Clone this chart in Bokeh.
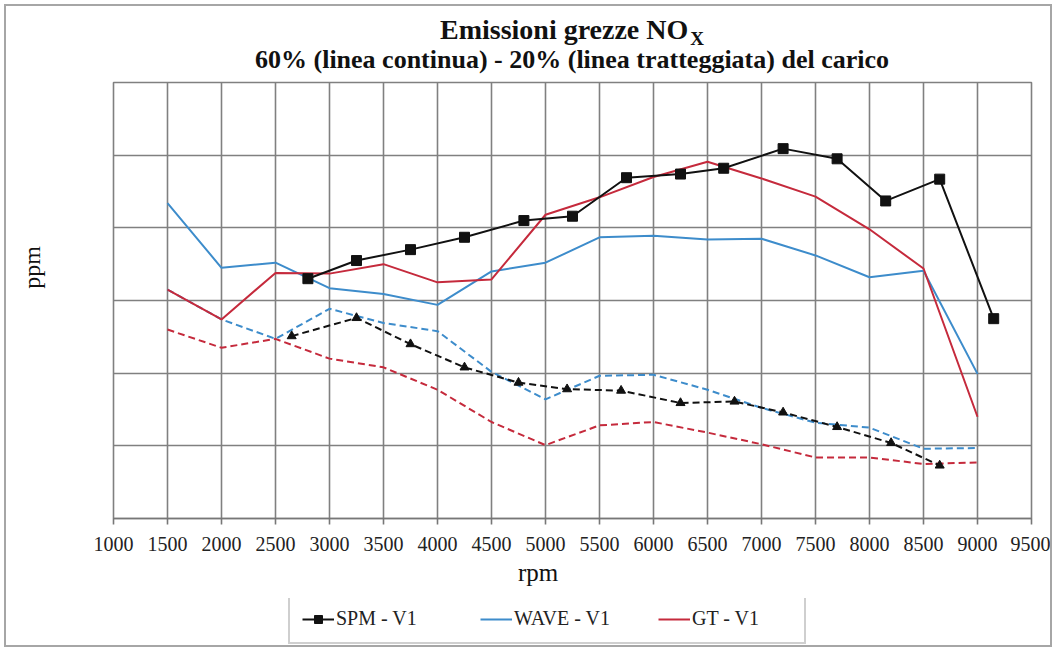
from bokeh.plotting import figure
from bokeh.models import Legend, LegendItem, FixedTicker, Range1d, Div
from bokeh.layouts import column
from bokeh.embed import file_html
from bokeh.resources import INLINE

# ---------------- data ----------------
rpm_ticks = [1000, 1500, 2000, 2500, 3000, 3500, 4000, 4500, 5000,
             5500, 6000, 6500, 7000, 7500, 8000, 8500, 9000, 9500]
ppm_grid = [0, 500, 1000, 1500, 2000, 2500, 3000]

# SPM - V1 (60% load, solid, squares)
spm60_rpm = [2800, 3250, 3750, 4250, 4800, 5250, 5750, 6250, 6650, 7200, 7700, 8150, 8650, 9150]
spm60_ppm = [1650, 1775, 1850, 1935, 2050, 2080, 2345, 2370, 2410, 2545, 2475, 2185, 2335, 1375]
# SPM - V1 (20% load, dashed, triangles)
spm20_rpm = [2650, 3250, 3750, 4250, 4750, 5200, 5700, 6250, 6750, 7200, 7700, 8200, 8650]
spm20_ppm = [1255, 1380, 1200, 1040, 935, 890, 880, 795, 805, 730, 630, 520, 365]

# WAVE / GT common rpm points
rpm_pts = [1500, 2000, 2500, 3000, 3500, 4000, 4500, 5000,
           5500, 6000, 6500, 7000, 7500, 8000, 8500, 9000]
wave60_ppm = [2170, 1725, 1760, 1585, 1545, 1470, 1700, 1760, 1935, 1945, 1920, 1925, 1810, 1660, 1705, 995]
wave20_ppm = [1575, 1370, 1236, 1443, 1345, 1289, 1009, 820, 982, 989, 886, 761, 659, 625, 480, 485]
gt60_ppm = [1575, 1370, 1690, 1685, 1750, 1625, 1645, 2090, 2210, 2350, 2455, 2340, 2215, 1990, 1720, 700]
gt20_ppm = [1300, 1175, 1236, 1100, 1040, 886, 664, 505, 641, 664, 591, 511, 420, 420, 375, 386]

series_names = ["SPM - V1", "WAVE - V1", "GT - V1"]
title_main = "Emissioni grezze NO"
title_sub = "X"
subtitle = "60% (linea continua) - 20% (linea tratteggiata) del carico"
x_label = "rpm"
y_label = "ppm"

# ---------------- style ----------------
BLACK = "#111111"
BLUE = "#3d8ccb"
RED = "#c52a3c"
GRID = "#808080"
SERIF = "Liberation Serif"
DASH = "7 4"
NB = "\u00a0"

W, H_TITLE, H_LEG = 1044, 70, 47

title_html = (
    f'<div style="width:{W}px;height:{H_TITLE}px;font-family:\'{SERIF}\';'
    f'font-weight:bold;color:#111111;box-sizing:border-box;'
    f'padding-left:107px;padding-right:19px;text-align:center;">'
    f'<div style="padding-top:10px;font-size:28px;line-height:28px;white-space:nowrap;">'
    f'{title_main}<span style="font-size:19px;position:relative;top:6px;margin-left:2px;">{title_sub}</span></div>'
    f'<div style="font-size:26px;line-height:26px;white-space:nowrap;">{subtitle}</div>'
    f'</div>'
)
title_div = Div(text=title_html, width=W, height=H_TITLE, margin=0)

# ---------------- main chart ----------------
p = figure(frame_width=918, frame_height=436, output_backend="svg", toolbar_location=None,
           x_range=Range1d(1000, 9500), y_range=Range1d(0, 3000),
           min_border_left=107, min_border_right=19, min_border_top=6,
           min_border_bottom=80, margin=0)
p.background_fill_color = "white"
p.border_fill_color = "white"
p.outline_line_color = GRID
p.outline_line_width = 1.6

p.xaxis.ticker = FixedTicker(ticks=rpm_ticks)
p.yaxis.ticker = FixedTicker(ticks=ppm_grid)
p.xgrid.ticker = FixedTicker(ticks=rpm_ticks)
p.ygrid.ticker = FixedTicker(ticks=ppm_grid)
p.xgrid.grid_line_color = GRID
p.ygrid.grid_line_color = GRID
p.xgrid.grid_line_width = 1.6
p.ygrid.grid_line_width = 1.6

ax = p.xaxis[0]
ax.axis_line_color = "#777777"
ax.axis_line_width = 1.6
ax.major_tick_line_color = "#777777"
ax.major_tick_line_width = 1.6
ax.major_tick_out = 6
ax.major_tick_in = 0
ax.minor_tick_line_color = None
ax.major_label_text_font = SERIF
ax.major_label_text_font_size = "20px"
ax.major_label_text_color = "#222222"
ax.major_label_standoff = 12
ax.axis_label = x_label + NB * 11
ax.axis_label_text_font = SERIF
ax.axis_label_text_font_size = "25px"
ax.axis_label_text_font_style = "normal"
ax.axis_label_text_color = "#111111"
ax.axis_label_standoff = 5

ay = p.yaxis[0]
ay.axis_line_color = None
ay.major_tick_line_color = None
ay.minor_tick_line_color = None
ay.major_tick_out = 0
ay.major_tick_in = 0
ay.major_label_overrides = {v: "" for v in ppm_grid}
ay.major_label_standoff = 0
ay.axis_label = NB * 11 + y_label
ay.axis_label_text_font = SERIF
ay.axis_label_text_font_size = "24px"
ay.axis_label_text_font_style = "normal"
ay.axis_label_text_color = "#111111"
ay.axis_label_standoff = 69

# 20% load: dashed lines
p.line(rpm_pts, gt20_ppm, line_color=RED, line_width=2, line_dash=DASH)
p.line(rpm_pts, wave20_ppm, line_color=BLUE, line_width=2, line_dash=DASH)
p.line(spm20_rpm, spm20_ppm, line_color=BLACK, line_width=2, line_dash=DASH)
p.scatter(spm20_rpm, spm20_ppm, marker="triangle", size=9, color=BLACK)

# 60% load: solid lines
p.line(rpm_pts, wave60_ppm, line_color=BLUE, line_width=2)
p.line(rpm_pts, gt60_ppm, line_color=RED, line_width=2)
p.line(spm60_rpm, spm60_ppm, line_color=BLACK, line_width=2)
p.scatter(spm60_rpm, spm60_ppm, marker="square", size=10, color=BLACK)

# ---------------- legend strip ----------------
lg = figure(width=W, height=H_LEG, output_backend="svg", toolbar_location=None,
            x_axis_type=None, y_axis_type=None, min_border=0, margin=0,
            x_range=Range1d(1000, 9500), y_range=Range1d(0, 3000))
lg.outline_line_color = None
lg.background_fill_color = "white"
lg.border_fill_color = "white"
k_spm = lg.line(spm60_rpm, spm60_ppm, line_color=BLACK, line_width=2, visible=False)
k_spm_m = lg.scatter(spm60_rpm, spm60_ppm, marker="square", size=9, color=BLACK, visible=False)
k_wave = lg.line(rpm_pts, wave60_ppm, line_color=BLUE, line_width=2, visible=False)
k_gt = lg.line(rpm_pts, gt60_ppm, line_color=RED, line_width=2, visible=False)

legend = Legend(items=[LegendItem(label=series_names[0], renderers=[k_spm, k_spm_m]),
                       LegendItem(label=series_names[1], renderers=[k_wave]),
                       LegendItem(label=series_names[2], renderers=[k_gt])],
                orientation="horizontal", location=(175, 1))
legend.label_text_font = SERIF
legend.label_text_font_size = "20px"
legend.label_text_color = "#222222"
legend.glyph_width = 32
legend.glyph_height = 20
legend.label_height = 20
legend.label_standoff = 2
legend.label_width = 100
legend.spacing = 44
legend.padding = 12
legend.margin = 0
legend.border_line_color = "#a0a0a0"
legend.border_line_width = 2
legend.background_fill_color = "white"
legend.background_fill_alpha = 1
lg.add_layout(legend, "center")

layout = column(title_div, p, lg, spacing=0,
                styles={"border": "2px solid #a6a6a6", "margin": "4px",
                        "background-color": "white"})

open("out.html", "w").write(file_html(layout, INLINE))
